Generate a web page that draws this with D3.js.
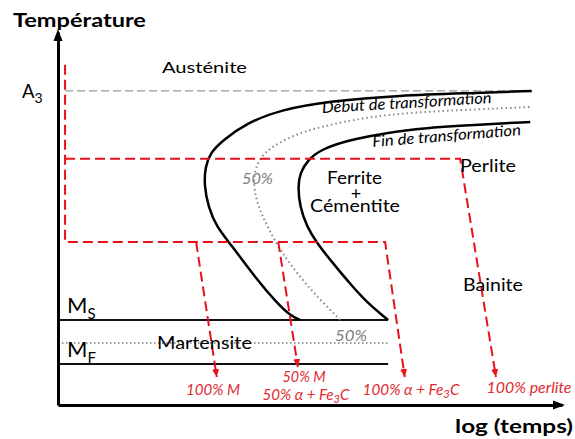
<!DOCTYPE html>
<html><head><meta charset="utf-8">
<script src="https://cdn.jsdelivr.net/npm/d3@7"></script>
<style>body{margin:0;background:#fff}svg{display:block}</style>
</head><body>
<svg id="c" width="575" height="439"></svg>
<script>
// Arbitrary units: x = log(temps) 0..100, y = Température 0..100
const xDomain = [0, 100];
const yDomain = [0, 100];
const A3 = 84.2, Ms = 22.8, M50 = 16.6, Mf = 11.0;
const levelsEnd = 65.5;
const a3Range = [1.4, 93.7];
// transformation curves [log t, T]
const debut = [[48.0,22.8],[46.0,24.1],[43.5,27.3],[39.5,33.5],[34.1,43.4],[31.5,47.7],[29.8,53.1],[29.0,59.0],[29.2,63.8],[30.2,67.6],[32.7,71.0],[37.5,75.6],[44.0,79.1],[54.0,81.5],[67.9,83.0],[81.7,83.6],[94.0,84.2]];
const fin = [[65.5,22.8],[64.5,23.9],[61.5,27.3],[58.5,31.6],[54.0,38.9],[51.4,43.4],[49.4,47.7],[48.0,53.1],[47.6,58.4],[48.0,62.2],[49.6,65.7],[52.0,68.4],[57.9,71.3],[71.4,74.3],[82.7,75.1],[93.7,75.9]];
const mid50 = [[56.0,22.8],[52.0,28.2],[48.0,34.3],[44.0,41.6],[42.1,46.4],[40.5,50.9],[39.3,55.0],[38.7,60.3],[39.5,64.9],[41.1,67.8],[43.7,70.2],[47.4,72.7],[54.0,75.3],[64.9,78.0],[79.8,79.1],[94.0,79.9]];
// cooling paths
const pathBainite = [[1.4,91.2],[1.4,43.7],[64.9,43.7],[68.8,7.5]];
const pathPerlite = [[1.4,66.0],[79.8,66.0],[86.9,7.5]];
const branchM = [[27.4,43.7],[31.5,7.5]];
const branch50 = [[43.7,43.7],[47.6,10.2]];

const svg = d3.select("#c");
const x = d3.scaleLinear().domain(xDomain).range([58, 562]);
const y = d3.scaleLinear().domain(yDomain).range([405, 32]);
const FONT = "Lato, 'Open Sans', sans-serif";
const RED = "#e8101a";
const REDTXT = "#e02a30";

const defs = svg.append("defs");
defs.append("marker").attr("id","ra").attr("markerUnits","userSpaceOnUse")
  .attr("markerWidth",10).attr("markerHeight",10).attr("refX",8).attr("refY",4)
  .attr("orient","auto").append("path").attr("d","M0,0.5L8,4L0,7.5Z").attr("fill",RED);

const line = d3.line().x(d=>x(d[0])).y(d=>y(d[1]));
const curve = d3.line().x(d=>x(d[0])).y(d=>y(d[1])).curve(d3.curveBasis);

// horizontal levels
svg.append("line").attr("x1",x(a3Range[0])).attr("x2",x(a3Range[1])).attr("y1",y(A3)).attr("y2",y(A3))
  .attr("stroke","#999").attr("stroke-width",1.2).attr("stroke-dasharray","8,4");
[Ms, Mf].forEach(v => svg.append("line").attr("x1",x(0)).attr("x2",x(levelsEnd)).attr("y1",y(v)).attr("y2",y(v))
  .attr("stroke","#111").attr("stroke-width",2));
svg.append("line").attr("x1",x(0)).attr("x2",x(levelsEnd)).attr("y1",y(M50)).attr("y2",y(M50))
  .attr("stroke","#777").attr("stroke-width",1.5).attr("stroke-dasharray","1.5,2.5");

// curves
svg.append("path").attr("d",curve(mid50)).attr("fill","none").attr("stroke","#888").attr("stroke-width",2).attr("stroke-dasharray","1.5,3");
svg.append("path").attr("d",curve(debut)).attr("fill","none").attr("stroke","#000").attr("stroke-width",2.5);
svg.append("path").attr("d",curve(fin)).attr("fill","none").attr("stroke","#000").attr("stroke-width",2.5);

// red cooling paths
[pathBainite, pathPerlite, branchM, branch50].forEach(p =>
  svg.append("path").attr("d",line(p)).attr("fill","none").attr("stroke",RED).attr("stroke-width",2)
    .attr("stroke-dasharray","10,5").attr("marker-end","url(#ra)"));

// axes
const yAxis = d3.axisLeft(y).tickValues([]).tickSizeOuter(0);
const xAxis = d3.axisBottom(x).tickValues([]).tickSizeOuter(0);
svg.append("g").attr("transform",`translate(${x(0)},0)`).call(yAxis);
svg.append("g").attr("transform",`translate(0,${y(0)})`).call(xAxis);
svg.selectAll(".domain").attr("stroke","#000").attr("stroke-width",3);
svg.append("path").attr("d",`M${x(0)-4.5},${y(100)+9}L${x(0)},${y(100)-3}L${x(0)+4.5},${y(100)+9}Z`).attr("fill","#000");
svg.append("path").attr("d",`M${x(100)-9},${y(0)-4.5}L${x(100)+3},${y(0)}L${x(100)-9},${y(0)+4.5}Z`).attr("fill","#000");

// text helper: size from cap height, optional target width -> horizontal stretch
function txt(s, px, py, o={}) {
  const g = svg.append("g");
  const t = g.append("text").attr("x",0).attr("y",0).attr("font-family",FONT)
    .attr("font-size",o.size||17).attr("fill",o.fill||"#000")
    .attr("font-weight",o.weight||"normal").attr("font-style",o.style||"normal")
    .attr("text-anchor",o.anchor||"start");
  if (o.sub) {
    t.append("tspan").text(s);
    t.append("tspan").text(o.sub).attr("font-size",o.subSize||12).attr("dy",o.subDy||5);
    if (o.after) t.append("tspan").text(o.after).attr("dy",-(o.subDy||5));
  } else t.text(s);
  let sx = 1;
  if (o.w) { const L = t.node().getComputedTextLength(); if (L > 0) sx = o.w / L; }
  g.attr("transform",`translate(${px},${py})` + (o.rot ? ` rotate(${o.rot})` : "") + ` scale(${sx},1)`);
  return t;
}

txt("Température", 13, 27, {size:19.5, weight:"bold", w:133});
txt("log (temps)", 573, 433, {size:19.5, weight:"bold", anchor:"end", w:118});
txt("A", 22, 98, {size:18.5, sub:"3", subSize:14, subDy:5});
txt("M", 67, 313, {size:22, sub:"S", subSize:15, subDy:6});
txt("M", 67, 357, {size:22, sub:"F", subSize:15, subDy:6});
txt("Austénite", 162, 73, {size:15.5, w:85});
txt("Martensite", 157, 349, {size:16.5, w:95});
txt("Perlite", 460, 172, {size:16.5, w:56});
txt("Ferrite", 354.5, 184, {size:16.5, anchor:"middle", w:55});
txt("+", 356, 200, {size:18, anchor:"middle"});
txt("Cémentite", 355, 212, {size:16.5, anchor:"middle", w:90});
txt("Bainite", 463, 291, {size:17, w:60});
txt("Début de transformation", 407, 108, {size:15.5, style:"italic", anchor:"middle", rot:-3.4, w:170});
txt("Fin de transformation", 447, 141, {size:15.5, style:"italic", anchor:"middle", rot:-4.6, w:149});
txt("50%", 242, 184, {size:15, style:"italic", fill:"#808080", w:31});
txt("50%", 335, 341, {size:15, style:"italic", fill:"#808080", w:32});
txt("100% M", 213, 395, {size:15, style:"italic", fill:REDTXT, anchor:"middle", w:54});
txt("50% M", 304, 382, {size:15, style:"italic", fill:REDTXT, anchor:"middle", w:43});
txt("50% α + Fe", 306, 400, {size:15, style:"italic", fill:REDTXT, anchor:"middle", sub:"3", subSize:11, subDy:3, after:"C", w:87});
txt("100% α + Fe", 411, 395, {size:15, style:"italic", fill:REDTXT, anchor:"middle", sub:"3", subSize:11, subDy:3, after:"C", w:97});
txt("100% perlite", 529, 393, {size:15, style:"italic", fill:REDTXT, anchor:"middle", w:85});
</script>
</body></html>
